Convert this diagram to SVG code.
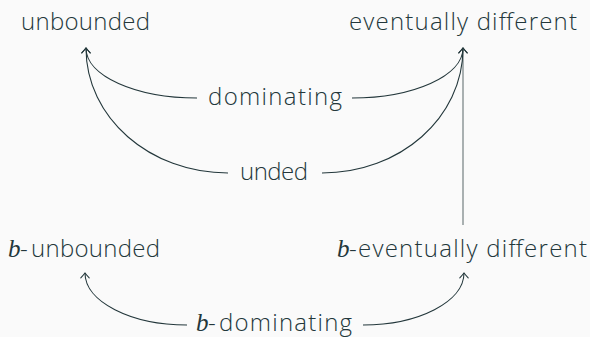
<svg xmlns="http://www.w3.org/2000/svg" width="590" height="337" viewBox="0 0 590 337">
  <defs>
    <style>
      .lbl { font-family: "Open Sans", "Lato", "DejaVu Sans", sans-serif; font-size: 24px; font-weight: 300; fill: #23373b; }
      .var { font-family: "Liberation Serif", "DejaVu Serif", serif; font-style: italic; font-weight: 400; font-size: 25px; fill: #23373b; }
      .edge { fill: none; stroke: #23373b; stroke-width: 1.1; marker-end: url(#tip); }
      .edge-gray { fill: none; stroke: #8e9799; stroke-width: 1.5; }
    </style>
    <marker id="tip" viewBox="-6 -5 7 10" markerWidth="7" markerHeight="10" refX="0" refY="0" orient="auto" markerUnits="userSpaceOnUse">
      <path d="M-4.8,-4.2 Q-1.6,-1.2 0,0 Q-1.6,1.2 -4.8,4.2" fill="none" stroke="#23373b" stroke-width="1.1" stroke-linecap="round"/>
    </marker>
  </defs>

  <rect width="590" height="337" fill="#fafafa"/>

  <!-- connectors -->
  <g id="connectors">
    <line class="edge-gray" x1="463" y1="225" x2="463" y2="50"/>
    <!-- dominating -> unbounded / eventually different -->
    <path class="edge" d="M197,98 C135.7,98 86,76 86,48"/>
    <path class="edge" d="M352,98 C413.3,98 463,76 463,48"/>
    <!-- unded -> unbounded / eventually different -->
    <path class="edge" d="M228,173 C150,173 86,118 86,48"/>
    <path class="edge" d="M322,173 C400,173 463,118 463,48"/>
    <!-- b-dominating -> b-unbounded / b-eventually different -->
    <path class="edge" d="M187,325 C130.7,325 85,301.7 85,273"/>
    <path class="edge" d="M363,325 C418.8,325 464,301.7 464,273"/>
  </g>

  <!-- nodes -->
  <g id="unbounded">
    <text class="lbl" x="21" y="30" textLength="129" lengthAdjust="spacing">unbounded</text>
  </g>
  <g id="eventually-different">
    <text class="lbl" x="349" y="30" textLength="228" lengthAdjust="spacing">eventually different</text>
  </g>
  <g id="dominating">
    <text class="lbl" x="208" y="105" textLength="134" lengthAdjust="spacing">dominating</text>
  </g>
  <g id="unded">
    <text class="lbl" x="240" y="180" textLength="68" lengthAdjust="spacing">unded</text>
  </g>
  <g id="b-unbounded">
    <text class="var" x="8" y="257">b</text>
    <text class="lbl" x="20" y="257">-</text>
    <text class="lbl" x="31" y="257" textLength="129" lengthAdjust="spacing">unbounded</text>
  </g>
  <g id="b-eventually-different">
    <text class="var" x="337" y="257">b</text>
    <text class="lbl" x="349" y="257">-</text>
    <text class="lbl" x="358" y="257" textLength="229" lengthAdjust="spacing">eventually different</text>
  </g>
  <g id="b-dominating">
    <text class="var" x="196" y="331">b</text>
    <text class="lbl" x="208" y="331">-</text>
    <text class="lbl" x="219" y="331" textLength="133" lengthAdjust="spacing">dominating</text>
  </g>
</svg>
